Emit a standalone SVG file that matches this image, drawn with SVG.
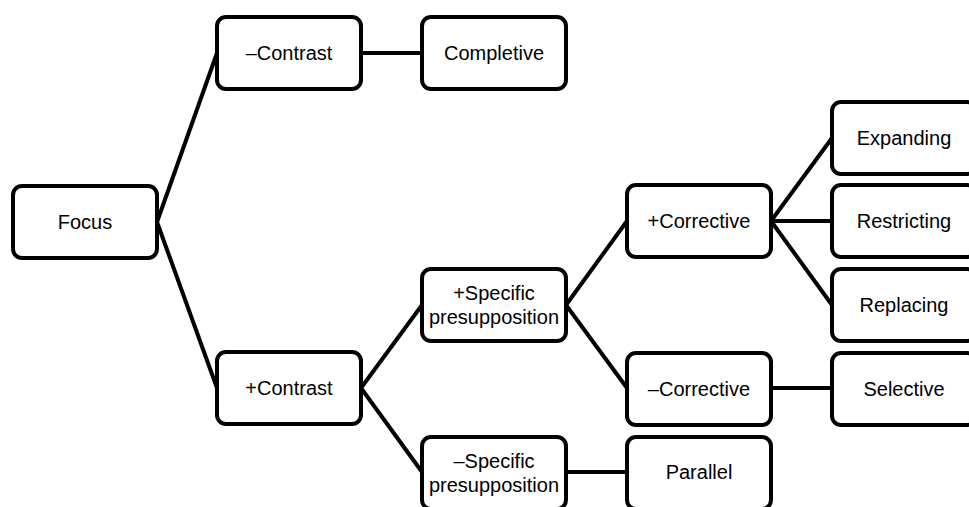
<svg xmlns="http://www.w3.org/2000/svg" width="969" height="507" viewBox="0 0 969 507">
<style>
.box{fill:#fff;stroke:#000;stroke-width:4}
.t{font-family:"Liberation Sans",Arial,sans-serif;font-size:20px;fill:#000;text-anchor:middle}
.c{stroke:#000;stroke-width:4;fill:none}
</style>
<rect width="969" height="507" fill="#fff"/>
<g id="connectors" class="c">
<line x1="157" y1="222" x2="217" y2="53"/>
<line x1="157" y1="222" x2="217" y2="388"/>
<line x1="361" y1="53" x2="422" y2="53"/>
<line x1="361" y1="388" x2="422" y2="305"/>
<line x1="361" y1="388" x2="422" y2="472"/>
<line x1="566" y1="305" x2="627" y2="221"/>
<line x1="566" y1="305" x2="627" y2="388"/>
<line x1="566" y1="472" x2="627" y2="472"/>
<line x1="771" y1="221" x2="832" y2="138"/>
<line x1="771" y1="221" x2="832" y2="221"/>
<line x1="771" y1="221" x2="832" y2="305"/>
<line x1="771" y1="388" x2="832" y2="388"/>
</g>
<g id="focus"><rect class="box" x="13" y="186" width="144" height="72" rx="9"/><text class="t" x="85" y="229">Focus</text></g>
<g id="minus-contrast"><rect class="box" x="217" y="17" width="144" height="72" rx="9"/><text class="t" x="289" y="60">–Contrast</text></g>
<g id="completive"><rect class="box" x="422" y="17" width="144" height="72" rx="9"/><text class="t" x="494" y="60">Completive</text></g>
<g id="plus-contrast"><rect class="box" x="217" y="352" width="144" height="72" rx="9"/><text class="t" x="289" y="395">+Contrast</text></g>
<g id="plus-specific"><rect class="box" x="422" y="269" width="144" height="72" rx="9"/><text class="t" x="494" y="300">+Specific</text><text class="t" x="494" y="324">presupposition</text></g>
<g id="minus-specific"><rect class="box" x="422" y="437" width="144" height="72" rx="9"/><text class="t" x="494" y="468">–Specific</text><text class="t" x="494" y="492">presupposition</text></g>
<g id="plus-corrective"><rect class="box" x="627" y="185" width="144" height="72" rx="9"/><text class="t" x="699" y="228">+Corrective</text></g>
<g id="minus-corrective"><rect class="box" x="627" y="353" width="144" height="72" rx="9"/><text class="t" x="699" y="396">–Corrective</text></g>
<g id="parallel"><rect class="box" x="627" y="437" width="144" height="72" rx="9"/><text class="t" x="699" y="479">Parallel</text></g>
<g id="expanding"><rect class="box" x="832" y="102" width="144" height="72" rx="9"/><text class="t" x="904" y="145">Expanding</text></g>
<g id="restricting"><rect class="box" x="832" y="185" width="144" height="72" rx="9"/><text class="t" x="904" y="228">Restricting</text></g>
<g id="replacing"><rect class="box" x="832" y="269" width="144" height="72" rx="9"/><text class="t" x="904" y="312">Replacing</text></g>
<g id="selective"><rect class="box" x="832" y="353" width="144" height="72" rx="9"/><text class="t" x="904" y="396">Selective</text></g>
</svg>
